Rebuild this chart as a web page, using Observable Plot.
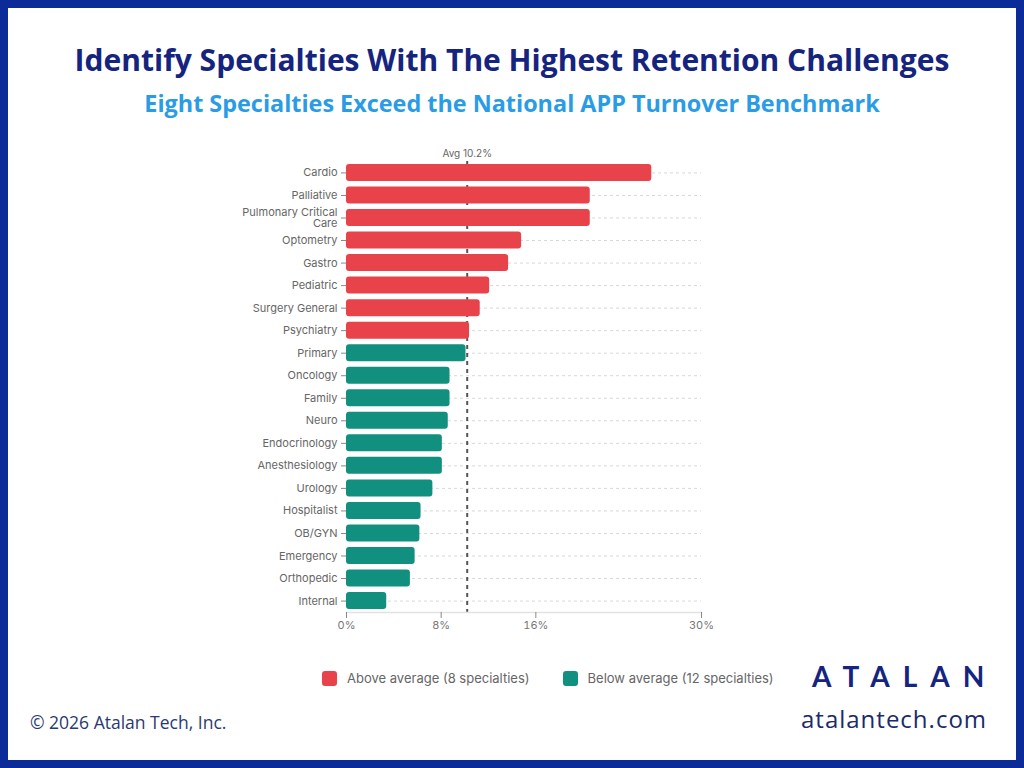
<!DOCTYPE html>
<html>
<head>
<meta charset="utf-8">
<script src="https://cdn.jsdelivr.net/npm/d3@7"></script>
<script src="https://cdn.jsdelivr.net/npm/@observablehq/plot@0.6"></script>
<style>
  html, body { margin: 0; padding: 0; background: #fff; }
  #frame { position: relative; width: 1024px; height: 768px; box-sizing: border-box; border: 8px solid #0b2c98; background: #fff; overflow: hidden; }
  #title { position: absolute; left: 0; right: 0; top: 31px; text-align: center; font-family: "Open Sans", sans-serif; font-weight: 700; font-size: 30px; color: #15247f; white-space: nowrap; }
  #subtitle { position: absolute; left: 0; right: 0; top: 79px; text-align: center; font-family: "Open Sans", sans-serif; font-weight: 700; font-size: 23.4px; color: #2a9ce6; white-space: nowrap; }
  #chart { position: absolute; left: 0; top: 132px; }
  #legend { position: absolute; left: 314px; top: 662px; font-family: Inter, sans-serif; font-size: 13px; color: #666; display: flex; align-items: center; }
  .sw { display: inline-block; width: 15px; height: 15px; border-radius: 3px; margin-right: 10px; }
  .item { display: flex; align-items: center; margin-right: 33px; }
  #logo { position: absolute; left: 804px; top: 651px; font-family: Lato, sans-serif; font-weight: 700; font-size: 28px; letter-spacing: 13px; color: #15247f; white-space: nowrap; }
  #url { position: absolute; left: 793px; top: 694px; font-family: "Open Sans", sans-serif; font-size: 24px; letter-spacing: 1px; color: #1b2a6b; white-space: nowrap; }
  #copy { position: absolute; left: 22px; top: 702px; font-family: "Open Sans", sans-serif; font-size: 17.5px; color: #2a3a70; white-space: nowrap; }
</style>
</head>
<body>
<div id="frame">
  <div id="title">Identify Specialties With The Highest Retention Challenges</div>
  <div id="subtitle">Eight Specialties Exceed the National APP Turnover Benchmark</div>
  <div id="chart"></div>
  <div id="legend"></div>
  <div id="logo">ATALAN</div>
  <div id="url">atalantech.com</div>
  <div id="copy">© 2026 Atalan Tech, Inc.</div>
</div>
<script>
const specialties = ["Cardio","Palliative","Pulmonary Critical Care","Optometry","Gastro","Pediatric","Surgery General","Psychiatry","Primary","Oncology","Family","Neuro","Endocrinology","Anesthesiology","Urology","Hospitalist","OB/GYN","Emergency","Orthopedic","Internal"];
const turnover = [25.8,20.6,20.6,14.8,13.7,12.1,11.3,10.4,10.1,8.75,8.75,8.6,8.1,8.1,7.3,6.3,6.2,5.8,5.4,3.4];
const average = 10.2;
const xTicks = [0, 8, 16, 30];
const groupLabels = ["Above average (8 specialties)", "Below average (12 specialties)"];
const groupColors = ["#e8434a", "#12907f"];

const data = specialties.map((s, i) => ({
  specialty: s,
  value: turnover[i],
  group: turnover[i] > average ? groupLabels[0] : groupLabels[1]
}));

const chart = Plot.plot({
  width: 1008,
  height: 500,
  marginLeft: 338,
  marginRight: 315,
  marginTop: 21,
  marginBottom: 28,
  style: { fontFamily: "Inter, sans-serif", fontSize: "11px", color: "#666", background: "transparent" },
  x: { domain: [0, 30] },
  y: { domain: specialties, paddingInner: 0.245, paddingOuter: 0.13, round: false },
  color: { domain: groupLabels, range: groupColors },
  marks: [
    Plot.ruleY(specialties, { y: d => d, stroke: "#d8d8d8", strokeDasharray: "3,3", strokeWidth: 1 }),
    Plot.ruleX([average], { x: d => d, stroke: "#555", strokeWidth: 2, strokeDasharray: "4,4" }),
    Plot.barX(data, { y: "specialty", x: "value", fill: "group", rx: 3 }),
    Plot.text([average], { x: d => d, frameAnchor: "top", dy: -12, text: d => `Avg ${d}%`, fill: "#666", fontSize: 10 }),
    Plot.frame({ anchor: "bottom", stroke: "#e2e2e2", strokeWidth: 1.5 }),
    Plot.axisX({ ticks: xTicks, tickFormat: d => d + "%", tickSize: 6, stroke: "#888", fill: "#777", label: null }),
    Plot.axisY({ tickSize: 5, stroke: "#888", fill: "#666", label: null,
      tickFormat: d => d === "Pulmonary Critical Care" ? "Pulmonary Critical\nCare" : d })
  ]
});
document.getElementById("chart").appendChild(chart);

const legend = document.getElementById("legend");
groupLabels.forEach((g, i) => {
  const item = document.createElement("div");
  item.className = "item";
  const sw = document.createElement("span");
  sw.className = "sw";
  sw.style.background = groupColors[i];
  item.appendChild(sw);
  item.appendChild(document.createTextNode(g));
  legend.appendChild(item);
});
</script>
</body>
</html>
